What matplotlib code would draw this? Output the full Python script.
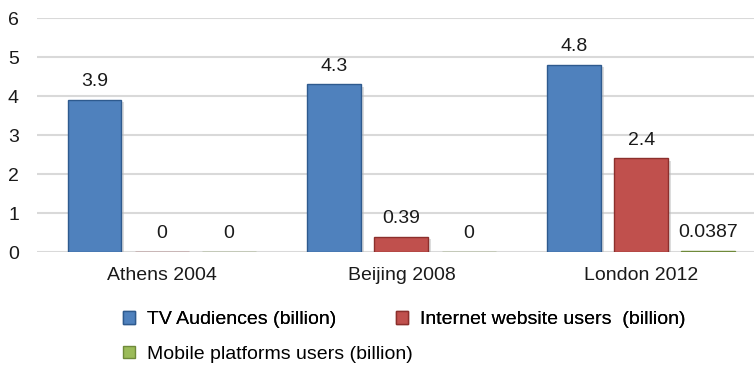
import numpy as np
import matplotlib.pyplot as plt
from matplotlib.patches import Patch

plt.rcParams['font.family'] = ['Liberation Sans', 'DejaVu Sans']

games = ['Athens 2004', 'Beijing 2008', 'London 2012']
tv = [3.9, 4.3, 4.8]
internet = [0, 0.39, 2.4]
mobile = [0, 0, 0.0387]
series_names = ['TV Audiences (billion)', 'Internet website users  (billion)',
                'Mobile platforms users (billion)']
labels_tv = ['3.9', '4.3', '4.8']
labels_internet = ['0', '0.39', '2.4']
labels_mobile = ['0', '0', '0.0387']

colores = ['#4F81BD', '#C0504D', '#9BBB59']
bordes = ['#2E5A8E', '#8C2F2C', '#6F8A3A']
tam = 14

fig = plt.figure(figsize=(7.54, 3.69), dpi=100)
ax = fig.add_axes([0.049, 0.317, 0.951, 0.634])

x = np.arange(len(games))
ancho = 0.225
paso = 0.28

for k, (vals, labs) in enumerate([(tv, labels_tv), (internet, labels_internet), (mobile, labels_mobile)]):
    pos = x + (k - 1) * paso
    # sombra
    ax.bar(pos + 0.01, vals, ancho, bottom=-0.06, color='#BBBBBB', alpha=0.5, zorder=2, linewidth=0)
    barras = ax.bar(pos, vals, ancho, color=colores[k], edgecolor=bordes[k], linewidth=1.0, zorder=3)
    for b, lab in zip(barras, labs):
        ax.annotate(lab, (b.get_x() + b.get_width() / 2, b.get_height()),
                    xytext=(0, 7), textcoords='offset points',
                    ha='center', va='bottom', fontsize=tam, color='#1a1a1a')

ax.set_ylim(0, 6)
ax.set_xlim(-0.52, 2.47)
ax.set_yticks(range(0, 7))
ax.set_xticks(x)
ax.set_xticklabels(games)
ax.tick_params(axis='both', length=0, labelsize=tam, colors='#1a1a1a')
ax.tick_params(axis='y', pad=13)
ax.tick_params(axis='x', pad=11)
ax.grid(axis='y', color='#D9D9D9', linewidth=1.5, zorder=0)
ax.set_axisbelow(True)
for s in ax.spines.values():
    s.set_visible(False)

handles = [Patch(facecolor=c, edgecolor=e) for c, e in zip(colores, bordes)]
leg1 = fig.legend(handles[:2], series_names[:2], loc='center left', bbox_to_anchor=(0.163, 0.133),
                  ncol=2, frameon=False, fontsize=tam, handlelength=0.62, handleheight=0.62,
                  handletextpad=0.6, columnspacing=3.1, borderpad=0, borderaxespad=0)
fig.legend(handles[2:], series_names[2:], loc='center left', bbox_to_anchor=(0.163, 0.04),
           frameon=False, fontsize=tam, handlelength=0.62, handleheight=0.62,
           handletextpad=0.6, borderpad=0, borderaxespad=0)
fig.add_artist(leg1)

plt.savefig('out.png', dpi=100)
